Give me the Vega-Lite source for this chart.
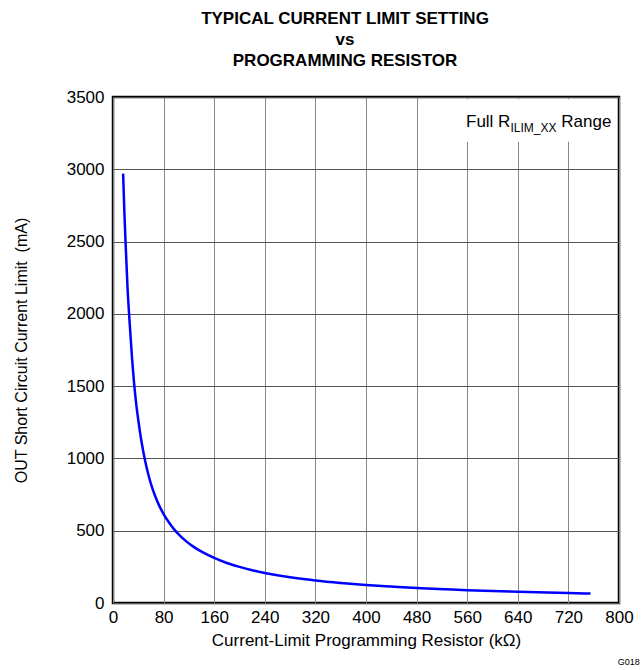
{
  "$schema": "https://vega.github.io/schema/vega-lite/v6.json",
  "width": 506,
  "height": 506,
  "autosize": "none",
  "padding": {"left": 113, "top": 97, "right": 24, "bottom": 67},
  "background": "white",
  "config": {
    "font": "Liberation Sans",
    "view": {"stroke": "black", "strokeWidth": 2.5},
    "axis": {"labelFont": "Liberation Sans", "titleFont": "Liberation Sans", "labelColor": "black", "titleColor": "black", "labelFontSize": 17, "titleFontSize": 16, "titleFontWeight": "normal", "tickSize": 0, "domain": false, "gridOpacity": 1, "gridWidth": 1}
  },
  "title": {
    "text": ["TYPICAL CURRENT LIMIT SETTING", "vs", "PROGRAMMING RESISTOR"],
    "font": "Liberation Sans",
    "fontSize": 17,
    "fontWeight": "bold",
    "lineHeight": 21,
    "color": "black",
    "anchor": "middle",
    "dx": -21,
    "offset": 18
  },
  "datasets": {
    "curve": [
      {"r": 16, "i": 2970},
      {"r": 18, "i": 2700},
      {"r": 20, "i": 2480},
      {"r": 23, "i": 2180},
      {"r": 26, "i": 1960},
      {"r": 30, "i": 1700},
      {"r": 34, "i": 1490},
      {"r": 37, "i": 1365},
      {"r": 40, "i": 1265},
      {"r": 44, "i": 1145},
      {"r": 48, "i": 1045},
      {"r": 52, "i": 960},
      {"r": 57, "i": 870},
      {"r": 62, "i": 797},
      {"r": 68, "i": 725},
      {"r": 74, "i": 665},
      {"r": 80, "i": 615},
      {"r": 88, "i": 560},
      {"r": 96, "i": 513},
      {"r": 105, "i": 470},
      {"r": 115, "i": 430},
      {"r": 127, "i": 390},
      {"r": 140, "i": 355},
      {"r": 160, "i": 312},
      {"r": 180, "i": 277},
      {"r": 200, "i": 250},
      {"r": 220, "i": 227},
      {"r": 240, "i": 208},
      {"r": 280, "i": 178},
      {"r": 320, "i": 156},
      {"r": 360, "i": 139},
      {"r": 400, "i": 125},
      {"r": 440, "i": 114},
      {"r": 480, "i": 104},
      {"r": 560, "i": 89},
      {"r": 640, "i": 78},
      {"r": 720, "i": 69},
      {"r": 755, "i": 65}
    ],
    "box": [{"x1": 500, "x2": 796, "y1": 3190, "y2": 3485}],
    "note": [{"x": 788, "y": 3295}],
    "code": [{"x": 833, "y": -410, "t": "G018"}]
  },
  "layer": [
    {
      "data": {"name": "box"},
      "mark": {"type": "rect", "fill": "white", "stroke": null},
      "encoding": {
        "x": {"field": "x1", "type": "quantitative", "scale": {"domain": [0, 800], "nice": false}, "axis": {"values": [0, 80, 160, 240, 320, 400, 480, 560, 640, 720, 800], "format": "d", "title": "Current-Limit Programming Resistor (kΩ)", "titleFontSize": 17, "labelPadding": 6, "titlePadding": 7, "gridColor": "#888888", "labelFlush": false}},
        "x2": {"field": "x2"},
        "y": {"field": "y1", "type": "quantitative", "scale": {"domain": [0, 3500], "nice": false}, "axis": {"values": [0, 500, 1000, 1500, 2000, 2500, 3000, 3500], "format": "d", "title": "OUT Short Circuit Current Limit\u00a0 (mA)", "labelPadding": 9, "titlePadding": 37, "gridColor": "#555555", "labelFlush": false}},
        "y2": {"field": "y2"}
      }
    },
    {
      "data": {"name": "curve"},
      "mark": {"type": "line", "color": "#0000ff", "strokeWidth": 2.5, "interpolate": "monotone"},
      "encoding": {
        "x": {"field": "r", "type": "quantitative"},
        "y": {"field": "i", "type": "quantitative"}
      }
    },
    {
      "data": {"name": "note"},
      "mark": {"type": "text", "text": "Range", "align": "right", "baseline": "alphabetic", "fontSize": 17, "font": "Liberation Sans", "color": "black"},
      "encoding": {"x": {"field": "x", "type": "quantitative"}, "y": {"field": "y", "type": "quantitative"}}
    },
    {
      "data": {"name": "note"},
      "mark": {"type": "text", "text": "ILIM_XX", "align": "right", "baseline": "alphabetic", "fontSize": 12, "dx": -55, "dy": 5, "font": "Liberation Sans", "color": "black"},
      "encoding": {"x": {"field": "x", "type": "quantitative"}, "y": {"field": "y", "type": "quantitative"}}
    },
    {
      "data": {"name": "note"},
      "mark": {"type": "text", "text": "Full R", "align": "right", "baseline": "alphabetic", "fontSize": 17, "dx": -101, "font": "Liberation Sans", "color": "black"},
      "encoding": {"x": {"field": "x", "type": "quantitative"}, "y": {"field": "y", "type": "quantitative"}}
    },
    {
      "data": {"name": "code"},
      "mark": {"type": "text", "align": "right", "baseline": "middle", "fontSize": 9, "font": "Liberation Sans", "color": "black", "clip": false},
      "encoding": {"x": {"field": "x", "type": "quantitative"}, "y": {"field": "y", "type": "quantitative"}, "text": {"field": "t"}}
    }
  ]
}
